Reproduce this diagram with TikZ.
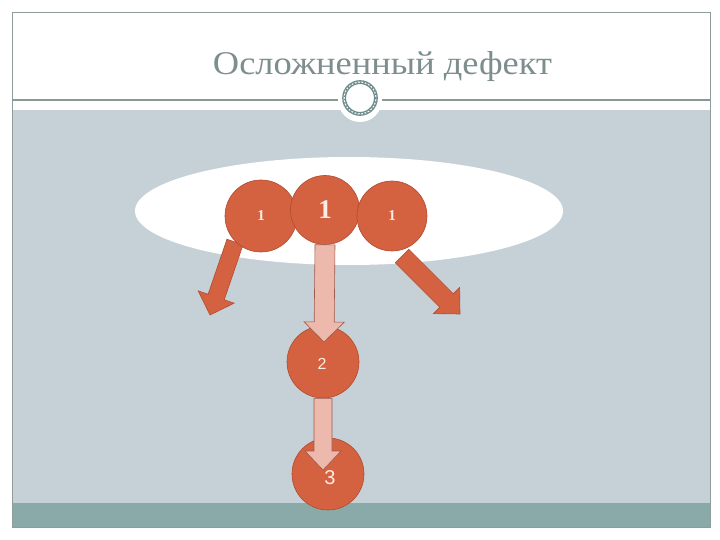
\documentclass[tikz,border=0pt]{standalone}
\usepackage{fontspec}
\setmainfont{Liberation Serif}
\newfontfamily\sansf{Liberation Sans}
\usetikzlibrary{calc,shapes.geometric}
\definecolor{bgblue}{HTML}{C5D1D7}
\definecolor{tealbar}{HTML}{8AAAAA}
\definecolor{framegray}{HTML}{8E9C9C}
\definecolor{linegray}{HTML}{8A9898}
\definecolor{ringcol}{HTML}{6E8C8C}
\definecolor{titlecol}{HTML}{7E8E8E}
\definecolor{ballfill}{HTML}{D4613F}
\definecolor{ballline}{HTML}{B04B30}
\definecolor{pinkfill}{HTML}{EDB9AD}
\definecolor{pinkline}{HTML}{9E5A4C}
\definecolor{labelcol}{HTML}{FAEDE6}
\newcommand\blockarrow[6]{%
  \path (#3) coordinate (ba-t) ($(#3)!#6!(#2)$) coordinate (ba-h);
  \draw[#1] ($(#2)!#4!90:(ba-t)$) -- ($(ba-h)!#4!90:(ba-t)$) -- ($(ba-h)!#5!90:(ba-t)$)
    -- (ba-t) -- ($(ba-h)!#5!-90:(ba-t)$) -- ($(ba-h)!#4!-90:(ba-t)$)
    -- ($(#2)!#4!-90:(ba-t)$) -- cycle;}
\tikzset{
  ball/.style={circle, fill=ballfill, draw=ballline, line width=0.6pt, inner sep=0pt, text=labelcol},
  orangearrow/.style={fill=ballfill, draw=ballline, line width=0.6pt, line join=miter},
  pinkarrow/.style={fill=pinkfill, draw=pinkline, line width=0.6pt, line join=miter},
  plate/.style={ellipse, fill=white, inner sep=0pt, minimum width=428pt, minimum height=108pt},
  smallone/.style={text=labelcol, font=\bfseries\fontsize{15}{15}\selectfont}
}
\begin{document}
\begin{tikzpicture}[x=1pt,y=-1pt]
\useasboundingbox (0,0) rectangle (720,540);
\fill[white] (0,0) rectangle (720,540);
\fill[bgblue] (12,110) rectangle (710,503);
\fill[tealbar] (12,503) rectangle (710,527);
\draw[framegray, line width=0.8pt] (12,12) rectangle (710,527);
\draw[linegray, line width=1.2pt] (12,100) -- (710,100);
\fill[white] (360,100) circle (22);
\draw[ringcol, line width=1.3pt] (360,98) circle (17.2);
\draw[ringcol, line width=1.3pt] (360,98) circle (14.6);
\draw[ringcol, line width=1.4pt, dotted] (360,98) circle (15.9);
\node[anchor=base, inner sep=0pt, text=titlecol] (title) at (382.5,75)
  {\resizebox{339pt}{23pt}{Осложненный дефект}};
% white plate
\node[plate] (plate) at (349,211) {};
% named points
\coordinate (lstart) at (235,242);
\coordinate (ltip) at (210,315);
\coordinate (rstart) at (402,256);
\coordinate (rtip) at (460,314);
\coordinate (t1) at (324,342);
\coordinate (t2) at (323,470);
% side arrows
\blockarrow{orangearrow}{lstart}{ltip}{8.5pt}{19pt}{19pt}
\blockarrow{orangearrow}{rstart}{rtip}{9.5pt}{18.5pt}{19pt}
% lower circles
\node[ball, minimum size=72pt] (b2) at (323,362) {};
\node[ball, minimum size=72pt] (b3) at (328,474) {};
% top circles
\node[ball, minimum size=72pt] (l) at (261,216) {};
\node[ball, minimum size=69pt] (m) at (325,210) {};
\node[ball, minimum size=70pt] (r) at (392,216) {};
% pink arrows
\blockarrow{pinkarrow}{m.south}{t1}{10pt}{20pt}{20pt}
\blockarrow{pinkarrow}{b2.south}{t2}{9pt}{18pt}{19pt}
% labels
\node[smallone] (ltxt) at (l.center) {1};
\node[text=labelcol, font=\bfseries\fontsize{27}{27}\selectfont] (mtxt) at (m.center) {1};
\node[smallone] (rtxt) at (r.center) {1};
\node[text=labelcol, font=\sansf\fontsize{16}{16}\selectfont] (txt2) at (322,364) {2};
\node[text=labelcol, font=\sansf\fontsize{20}{20}\selectfont] (txt3) at (330,478) {3};
\end{tikzpicture}
\end{document}
